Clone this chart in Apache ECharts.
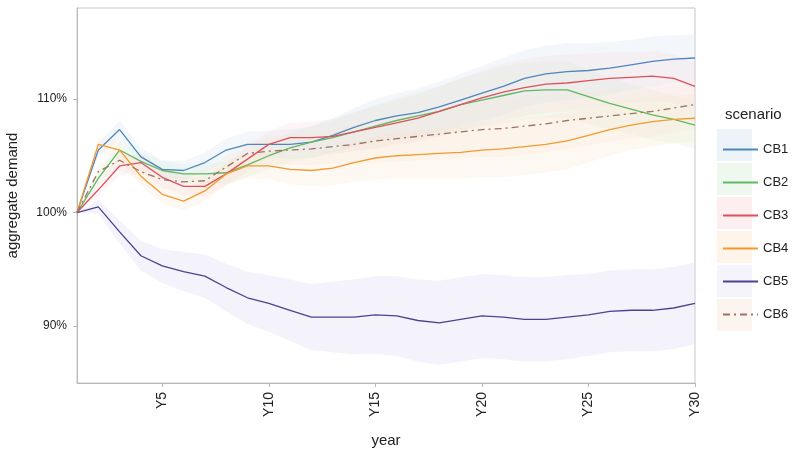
<!DOCTYPE html>
<html>
<head>
<meta charset="utf-8">
<script src="https://cdn.jsdelivr.net/npm/echarts@6/dist/echarts.min.js"></script>
<style>
  html, body { margin: 0; padding: 0; background: #fff; }
  #chart { width: 793px; height: 466px; }
</style>
</head>
<body>
<div id="chart"></div>
<script>
// years on the x axis
const years = ['Y1','Y2','Y3','Y4','Y5','Y6','Y7','Y8','Y9','Y10','Y11','Y12','Y13','Y14','Y15',
  'Y16','Y17','Y18','Y19','Y20','Y21','Y22','Y23','Y24','Y25','Y26','Y27','Y28','Y29','Y30'];
const yTicks = [90, 100, 110];
const scenarios = ['CB1', 'CB2', 'CB3', 'CB4', 'CB5', 'CB6'];

// mean aggregate demand per scenario (%)
const cb1 = [100, 105.5, 107.3, 104.9, 103.8, 103.7, 104.4, 105.5, 106.0, 106.0, 106.0, 106.2, 106.8, 107.5, 108.1,
  108.5, 108.8, 109.3, 109.9, 110.5, 111.1, 111.8, 112.2, 112.4, 112.5, 112.7, 113.0, 113.3, 113.5, 113.6];
const cb2 = [100, 103.0, 105.5, 104.5, 103.7, 103.4, 103.4, 103.5, 104.2, 105.0, 105.7, 106.2, 106.6, 107.1, 107.6,
  108.1, 108.5, 108.9, 109.5, 109.9, 110.3, 110.7, 110.8, 110.8, 110.2, 109.6, 109.1, 108.6, 108.2, 107.7];
const cb3 = [100, 102.0, 104.1, 104.4, 103.1, 102.3, 102.3, 103.4, 104.7, 106.0, 106.6, 106.6, 106.7, 107.1, 107.5,
  107.9, 108.3, 108.9, 109.5, 110.1, 110.6, 111.0, 111.3, 111.4, 111.6, 111.8, 111.9, 112.0, 111.8, 111.1];
const cb4 = [100, 106.0, 105.5, 103.2, 101.6, 101.0, 101.9, 103.4, 104.1, 104.1, 103.8, 103.7, 103.9, 104.4, 104.8,
  105.0, 105.1, 105.2, 105.3, 105.5, 105.6, 105.8, 106.0, 106.3, 106.8, 107.3, 107.7, 108.0, 108.2, 108.3];
const cb5 = [100, 100.5, 98.3, 96.2, 95.3, 94.8, 94.4, 93.4, 92.5, 92.0, 91.4, 90.8, 90.8, 90.8, 91.0,
  90.9, 90.5, 90.3, 90.6, 90.9, 90.8, 90.6, 90.6, 90.8, 91.0, 91.3, 91.4, 91.4, 91.6, 92.0];
const cb6 = [100, 103.6, 104.6, 103.6, 102.9, 102.7, 102.8, 104.0, 105.2, 105.4, 105.5, 105.6, 105.8, 106.0, 106.3,
  106.5, 106.7, 106.9, 107.1, 107.3, 107.4, 107.6, 107.8, 108.1, 108.3, 108.5, 108.7, 108.9, 109.2, 109.5];

// half width of the shaded band around each line (percentage points)
const spreadTop = [0, 0.6, 0.8, 0.8, 0.8, 0.8, 0.9, 1.0, 1.1, 1.2, 1.3, 1.4, 1.5, 1.7, 1.9,
  2.0, 2.1, 2.2, 2.3, 2.4, 2.5, 2.5, 2.5, 2.5, 2.4, 2.3, 2.2, 2.2, 2.1, 2.1];
const spreadCb5 = [0, 0.6, 1.0, 1.3, 1.5, 1.7, 1.9, 2.1, 2.3, 2.5, 2.7, 2.9, 3.1, 3.3, 3.4,
  3.5, 3.6, 3.7, 3.7, 3.7, 3.7, 3.7, 3.7, 3.7, 3.6, 3.6, 3.6, 3.6, 3.6, 3.6];

const lineColors = ['#4f86bd', '#5fb862', '#e0505a', '#f39a2e', '#4e4290', '#9c7360'];
const bandColors = ['#c9dcee', '#cdebd0', '#f8d2d4', '#fbe0c2', '#e2dcf4', '#f6e2d2'];
const means = [cb1, cb2, cb3, cb4, cb5, cb6];
const spreads = [spreadTop, spreadTop, spreadTop, spreadTop, spreadCb5, spreadTop];

const chart = echarts.init(document.getElementById('chart'));

// shaded bands: invisible lower line + stacked width with area fill
const bandSeries = [];
means.forEach((m, i) => {
  const s = spreads[i];
  bandSeries.push({
    name: 'band' + i + 'lo',
    type: 'line',
    stack: 'band' + i,
    data: m.map((v, k) => +(v - s[k]).toFixed(2)),
    symbol: 'none',
    lineStyle: { opacity: 0 },
    silent: true,
    z: 1
  });
  bandSeries.push({
    name: 'band' + i + 'hi',
    type: 'line',
    stack: 'band' + i,
    data: s.map(w => +(2 * w).toFixed(2)),
    symbol: 'none',
    lineStyle: { opacity: 0 },
    areaStyle: { color: bandColors[i], opacity: i === 4 ? 0.38 : 0.22 },
    silent: true,
    z: 1
  });
});

const lineSeries = means.map((m, i) => ({
  name: scenarios[i],
  type: 'line',
  data: m,
  symbol: 'none',
  lineStyle: {
    color: lineColors[i],
    width: 1.3,
    type: i === 5 ? [7, 4, 2, 4] : 'solid'
  },
  itemStyle: { color: lineColors[i] },
  z: 3
}));

// legend key backgrounds
const keyBoxes = bandColors.map((c, i) => ({
  type: 'rect',
  left: 717,
  top: 129 + i * 34,
  shape: { width: 35, height: 32 },
  style: { fill: c, opacity: 0.35 }
}));

chart.setOption({
  animation: false,
  textStyle: { fontFamily: 'Liberation Sans, Arial, sans-serif' },
  title: {
    text: 'scenario',
    left: 720,
    top: 102,
    textStyle: { fontSize: 15, fontWeight: 'normal', color: '#222' }
  },
  graphic: keyBoxes,
  legend: {
    data: scenarios,
    orient: 'vertical',
    left: 717,
    top: 138,
    itemWidth: 35,
    itemHeight: 14,
    itemGap: 20,
    itemStyle: { opacity: 0 },
    textStyle: { fontSize: 13, color: '#222' }
  },
  grid: {
    left: 77,
    right: 98,
    top: 8,
    bottom: 83,
    outerBoundsMode: 'none',
    containLabel: false,
    show: true,
    borderColor: '#c8c8c8',
    borderWidth: 1
  },
  xAxis: {
    type: 'category',
    data: years,
    boundaryGap: false,
    name: 'year',
    nameLocation: 'middle',
    nameGap: 50,
    nameTextStyle: { fontSize: 15, color: '#222' },
    axisLine: { lineStyle: { color: '#b8b8b8' } },
    axisTick: {
      length: 4,
      interval: (idx) => (idx + 1) % 5 === 0,
      lineStyle: { color: '#b8b8b8' }
    },
    axisLabel: {
      interval: (idx) => (idx + 1) % 5 === 0,
      rotate: 90,
      fontSize: 14,
      color: '#222',
      margin: 9
    },
    splitLine: { show: false }
  },
  yAxis: {
    type: 'value',
    min: 85,
    max: 118,
    name: 'aggregate demand',
    nameLocation: 'middle',
    nameGap: 57,
    nameTextStyle: { fontSize: 15, color: '#222' },
    axisLine: { show: true, lineStyle: { color: '#b8b8b8' } },
    axisTick: { show: true, length: 4, customValues: yTicks, lineStyle: { color: '#b8b8b8' } },
    axisLabel: {
      customValues: yTicks,
      formatter: '{value}%',
      fontSize: 12,
      color: '#222',
      margin: 10
    },
    splitLine: { show: false }
  },
  series: [...bandSeries, ...lineSeries]
});
</script>
</body>
</html>
